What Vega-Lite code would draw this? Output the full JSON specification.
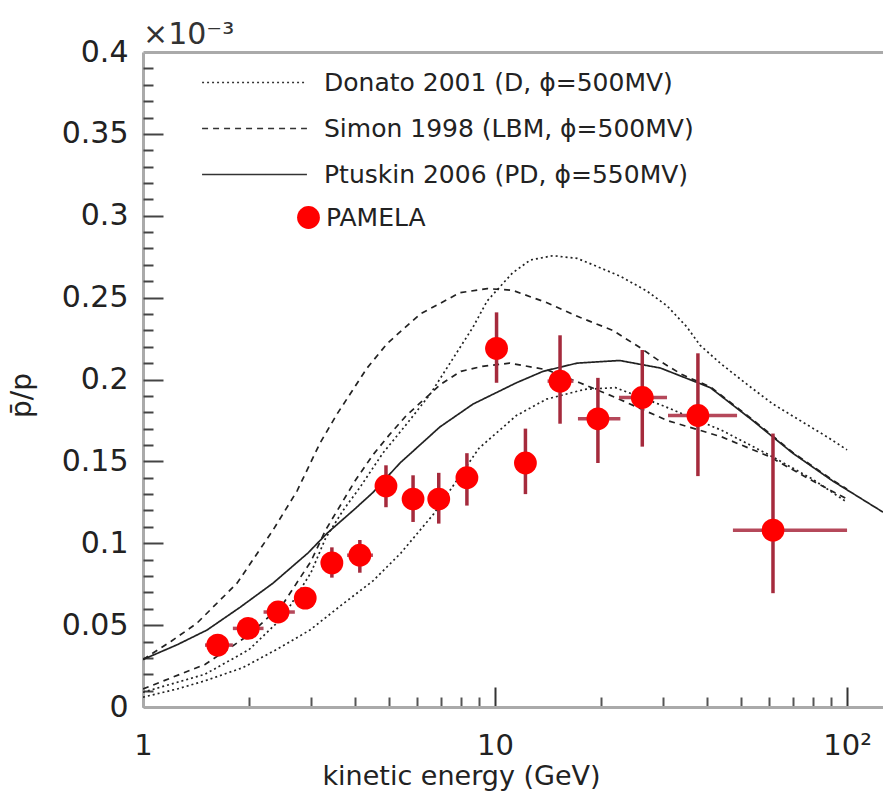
{
  "$schema": "https://vega.github.io/schema/vega-lite/v6.json",
  "width": 740,
  "height": 655,
  "autosize": {"type": "none"},
  "padding": {"left": 143, "top": 52, "right": 0, "bottom": 85},
  "background": "#ffffff",
  "config": {
    "view": {"stroke": null},
    "font": "DejaVu Sans",
    "axis": {"labelFlush": false, "labelOverlap": false, "labelBound": false}
  },
  "title": {"text": "×10⁻³", "anchor": "start", "frame": "group", "fontSize": 30, "fontWeight": "normal", "color": "#333333", "offset": 3, "dy": 16},
  "datasets": {
    "curves": [
      {"m": "Donato 2001 (D, ϕ=500MV)", "c": "Dup", "E": 1, "v": 0.009},
      {"m": "Donato 2001 (D, ϕ=500MV)", "c": "Dup", "E": 1.5, "v": 0.02},
      {"m": "Donato 2001 (D, ϕ=500MV)", "c": "Dup", "E": 2, "v": 0.035},
      {"m": "Donato 2001 (D, ϕ=500MV)", "c": "Dup", "E": 2.5, "v": 0.055},
      {"m": "Donato 2001 (D, ϕ=500MV)", "c": "Dup", "E": 3, "v": 0.082},
      {"m": "Donato 2001 (D, ϕ=500MV)", "c": "Dup", "E": 3.3, "v": 0.103},
      {"m": "Donato 2001 (D, ϕ=500MV)", "c": "Dup", "E": 3.7, "v": 0.12},
      {"m": "Donato 2001 (D, ϕ=500MV)", "c": "Dup", "E": 4.13, "v": 0.134},
      {"m": "Donato 2001 (D, ϕ=500MV)", "c": "Dup", "E": 4.8, "v": 0.155},
      {"m": "Donato 2001 (D, ϕ=500MV)", "c": "Dup", "E": 5.62, "v": 0.173},
      {"m": "Donato 2001 (D, ϕ=500MV)", "c": "Dup", "E": 6.54, "v": 0.191},
      {"m": "Donato 2001 (D, ϕ=500MV)", "c": "Dup", "E": 7.45, "v": 0.21},
      {"m": "Donato 2001 (D, ϕ=500MV)", "c": "Dup", "E": 8.66, "v": 0.232},
      {"m": "Donato 2001 (D, ϕ=500MV)", "c": "Dup", "E": 9.5, "v": 0.248},
      {"m": "Donato 2001 (D, ϕ=500MV)", "c": "Dup", "E": 11.2, "v": 0.265},
      {"m": "Donato 2001 (D, ϕ=500MV)", "c": "Dup", "E": 12.6, "v": 0.273},
      {"m": "Donato 2001 (D, ϕ=500MV)", "c": "Dup", "E": 14.6, "v": 0.2756},
      {"m": "Donato 2001 (D, ϕ=500MV)", "c": "Dup", "E": 17.1, "v": 0.274},
      {"m": "Donato 2001 (D, ϕ=500MV)", "c": "Dup", "E": 19.5, "v": 0.269},
      {"m": "Donato 2001 (D, ϕ=500MV)", "c": "Dup", "E": 22.7, "v": 0.263},
      {"m": "Donato 2001 (D, ϕ=500MV)", "c": "Dup", "E": 27, "v": 0.254},
      {"m": "Donato 2001 (D, ϕ=500MV)", "c": "Dup", "E": 30.8, "v": 0.245},
      {"m": "Donato 2001 (D, ϕ=500MV)", "c": "Dup", "E": 35.1, "v": 0.232},
      {"m": "Donato 2001 (D, ϕ=500MV)", "c": "Dup", "E": 38.2, "v": 0.221},
      {"m": "Donato 2001 (D, ϕ=500MV)", "c": "Dup", "E": 43.6, "v": 0.21},
      {"m": "Donato 2001 (D, ϕ=500MV)", "c": "Dup", "E": 52, "v": 0.197},
      {"m": "Donato 2001 (D, ϕ=500MV)", "c": "Dup", "E": 61.6, "v": 0.185},
      {"m": "Donato 2001 (D, ϕ=500MV)", "c": "Dup", "E": 73.5, "v": 0.175},
      {"m": "Donato 2001 (D, ϕ=500MV)", "c": "Dup", "E": 87.7, "v": 0.165},
      {"m": "Donato 2001 (D, ϕ=500MV)", "c": "Dup", "E": 100, "v": 0.157},
      {"m": "Donato 2001 (D, ϕ=500MV)", "c": "Dlo", "E": 1, "v": 0.006},
      {"m": "Donato 2001 (D, ϕ=500MV)", "c": "Dlo", "E": 1.25, "v": 0.011},
      {"m": "Donato 2001 (D, ϕ=500MV)", "c": "Dlo", "E": 1.5, "v": 0.016},
      {"m": "Donato 2001 (D, ϕ=500MV)", "c": "Dlo", "E": 1.92, "v": 0.024},
      {"m": "Donato 2001 (D, ϕ=500MV)", "c": "Dlo", "E": 2.39, "v": 0.035},
      {"m": "Donato 2001 (D, ϕ=500MV)", "c": "Dlo", "E": 2.98, "v": 0.047},
      {"m": "Donato 2001 (D, ϕ=500MV)", "c": "Dlo", "E": 3.7, "v": 0.063},
      {"m": "Donato 2001 (D, ϕ=500MV)", "c": "Dlo", "E": 4.5, "v": 0.077},
      {"m": "Donato 2001 (D, ϕ=500MV)", "c": "Dlo", "E": 5.4, "v": 0.094},
      {"m": "Donato 2001 (D, ϕ=500MV)", "c": "Dlo", "E": 6.7, "v": 0.118},
      {"m": "Donato 2001 (D, ϕ=500MV)", "c": "Dlo", "E": 8, "v": 0.142},
      {"m": "Donato 2001 (D, ϕ=500MV)", "c": "Dlo", "E": 9, "v": 0.158},
      {"m": "Donato 2001 (D, ϕ=500MV)", "c": "Dlo", "E": 11.5, "v": 0.178},
      {"m": "Donato 2001 (D, ϕ=500MV)", "c": "Dlo", "E": 14, "v": 0.188},
      {"m": "Donato 2001 (D, ϕ=500MV)", "c": "Dlo", "E": 18, "v": 0.194},
      {"m": "Donato 2001 (D, ϕ=500MV)", "c": "Dlo", "E": 22, "v": 0.195},
      {"m": "Donato 2001 (D, ϕ=500MV)", "c": "Dlo", "E": 30, "v": 0.184},
      {"m": "Donato 2001 (D, ϕ=500MV)", "c": "Dlo", "E": 44, "v": 0.169},
      {"m": "Donato 2001 (D, ϕ=500MV)", "c": "Dlo", "E": 60, "v": 0.154},
      {"m": "Donato 2001 (D, ϕ=500MV)", "c": "Dlo", "E": 80, "v": 0.139},
      {"m": "Donato 2001 (D, ϕ=500MV)", "c": "Dlo", "E": 100, "v": 0.125},
      {"m": "Simon 1998 (LBM, ϕ=500MV)", "c": "Sup", "E": 1, "v": 0.029},
      {"m": "Simon 1998 (LBM, ϕ=500MV)", "c": "Sup", "E": 1.2, "v": 0.04},
      {"m": "Simon 1998 (LBM, ϕ=500MV)", "c": "Sup", "E": 1.42, "v": 0.051},
      {"m": "Simon 1998 (LBM, ϕ=500MV)", "c": "Sup", "E": 1.85, "v": 0.0756},
      {"m": "Simon 1998 (LBM, ϕ=500MV)", "c": "Sup", "E": 2.34, "v": 0.108},
      {"m": "Simon 1998 (LBM, ϕ=500MV)", "c": "Sup", "E": 2.74, "v": 0.132},
      {"m": "Simon 1998 (LBM, ϕ=500MV)", "c": "Sup", "E": 3.18, "v": 0.161},
      {"m": "Simon 1998 (LBM, ϕ=500MV)", "c": "Sup", "E": 3.56, "v": 0.179},
      {"m": "Simon 1998 (LBM, ϕ=500MV)", "c": "Sup", "E": 4.33, "v": 0.207},
      {"m": "Simon 1998 (LBM, ϕ=500MV)", "c": "Sup", "E": 4.94, "v": 0.222},
      {"m": "Simon 1998 (LBM, ϕ=500MV)", "c": "Sup", "E": 6.13, "v": 0.24},
      {"m": "Simon 1998 (LBM, ϕ=500MV)", "c": "Sup", "E": 7.95, "v": 0.253},
      {"m": "Simon 1998 (LBM, ϕ=500MV)", "c": "Sup", "E": 9.5, "v": 0.2555},
      {"m": "Simon 1998 (LBM, ϕ=500MV)", "c": "Sup", "E": 11.2, "v": 0.2545},
      {"m": "Simon 1998 (LBM, ϕ=500MV)", "c": "Sup", "E": 14, "v": 0.247},
      {"m": "Simon 1998 (LBM, ϕ=500MV)", "c": "Sup", "E": 17.4, "v": 0.238},
      {"m": "Simon 1998 (LBM, ϕ=500MV)", "c": "Sup", "E": 21.6, "v": 0.23},
      {"m": "Simon 1998 (LBM, ϕ=500MV)", "c": "Sup", "E": 25.8, "v": 0.2195},
      {"m": "Simon 1998 (LBM, ϕ=500MV)", "c": "Sup", "E": 29, "v": 0.212},
      {"m": "Simon 1998 (LBM, ϕ=500MV)", "c": "Sup", "E": 34, "v": 0.203},
      {"m": "Simon 1998 (LBM, ϕ=500MV)", "c": "Sup", "E": 40.9, "v": 0.1955},
      {"m": "Simon 1998 (LBM, ϕ=500MV)", "c": "Sup", "E": 53.9, "v": 0.1755},
      {"m": "Simon 1998 (LBM, ϕ=500MV)", "c": "Sup", "E": 70.1, "v": 0.1555},
      {"m": "Simon 1998 (LBM, ϕ=500MV)", "c": "Sup", "E": 91.1, "v": 0.1385},
      {"m": "Simon 1998 (LBM, ϕ=500MV)", "c": "Sup", "E": 100, "v": 0.133},
      {"m": "Simon 1998 (LBM, ϕ=500MV)", "c": "Slo", "E": 1, "v": 0.011},
      {"m": "Simon 1998 (LBM, ϕ=500MV)", "c": "Slo", "E": 1.5, "v": 0.026},
      {"m": "Simon 1998 (LBM, ϕ=500MV)", "c": "Slo", "E": 2, "v": 0.044},
      {"m": "Simon 1998 (LBM, ϕ=500MV)", "c": "Slo", "E": 2.5, "v": 0.063},
      {"m": "Simon 1998 (LBM, ϕ=500MV)", "c": "Slo", "E": 3, "v": 0.089},
      {"m": "Simon 1998 (LBM, ϕ=500MV)", "c": "Slo", "E": 3.3, "v": 0.108},
      {"m": "Simon 1998 (LBM, ϕ=500MV)", "c": "Slo", "E": 4, "v": 0.138},
      {"m": "Simon 1998 (LBM, ϕ=500MV)", "c": "Slo", "E": 4.5, "v": 0.154},
      {"m": "Simon 1998 (LBM, ϕ=500MV)", "c": "Slo", "E": 5, "v": 0.166},
      {"m": "Simon 1998 (LBM, ϕ=500MV)", "c": "Slo", "E": 5.6, "v": 0.178},
      {"m": "Simon 1998 (LBM, ϕ=500MV)", "c": "Slo", "E": 7, "v": 0.197},
      {"m": "Simon 1998 (LBM, ϕ=500MV)", "c": "Slo", "E": 8, "v": 0.205},
      {"m": "Simon 1998 (LBM, ϕ=500MV)", "c": "Slo", "E": 9.2, "v": 0.208},
      {"m": "Simon 1998 (LBM, ϕ=500MV)", "c": "Slo", "E": 11, "v": 0.21},
      {"m": "Simon 1998 (LBM, ϕ=500MV)", "c": "Slo", "E": 14, "v": 0.206},
      {"m": "Simon 1998 (LBM, ϕ=500MV)", "c": "Slo", "E": 17.4, "v": 0.198},
      {"m": "Simon 1998 (LBM, ϕ=500MV)", "c": "Slo", "E": 22, "v": 0.189},
      {"m": "Simon 1998 (LBM, ϕ=500MV)", "c": "Slo", "E": 30.8, "v": 0.175},
      {"m": "Simon 1998 (LBM, ϕ=500MV)", "c": "Slo", "E": 44, "v": 0.165},
      {"m": "Simon 1998 (LBM, ϕ=500MV)", "c": "Slo", "E": 60, "v": 0.153},
      {"m": "Simon 1998 (LBM, ϕ=500MV)", "c": "Slo", "E": 80, "v": 0.138},
      {"m": "Simon 1998 (LBM, ϕ=500MV)", "c": "Slo", "E": 100, "v": 0.127},
      {"m": "Ptuskin 2006 (PD, ϕ=550MV)", "c": "P", "E": 1, "v": 0.029},
      {"m": "Ptuskin 2006 (PD, ϕ=550MV)", "c": "P", "E": 1.25, "v": 0.038},
      {"m": "Ptuskin 2006 (PD, ϕ=550MV)", "c": "P", "E": 1.52, "v": 0.047},
      {"m": "Ptuskin 2006 (PD, ϕ=550MV)", "c": "P", "E": 1.89, "v": 0.061},
      {"m": "Ptuskin 2006 (PD, ϕ=550MV)", "c": "P", "E": 2.34, "v": 0.0756},
      {"m": "Ptuskin 2006 (PD, ϕ=550MV)", "c": "P", "E": 2.94, "v": 0.094},
      {"m": "Ptuskin 2006 (PD, ϕ=550MV)", "c": "P", "E": 3.33, "v": 0.106},
      {"m": "Ptuskin 2006 (PD, ϕ=550MV)", "c": "P", "E": 4, "v": 0.121},
      {"m": "Ptuskin 2006 (PD, ϕ=550MV)", "c": "P", "E": 4.5, "v": 0.131},
      {"m": "Ptuskin 2006 (PD, ϕ=550MV)", "c": "P", "E": 5.37, "v": 0.149},
      {"m": "Ptuskin 2006 (PD, ϕ=550MV)", "c": "P", "E": 6.97, "v": 0.171},
      {"m": "Ptuskin 2006 (PD, ϕ=550MV)", "c": "P", "E": 8.66, "v": 0.185},
      {"m": "Ptuskin 2006 (PD, ϕ=550MV)", "c": "P", "E": 11.5, "v": 0.198},
      {"m": "Ptuskin 2006 (PD, ϕ=550MV)", "c": "P", "E": 13.7, "v": 0.205},
      {"m": "Ptuskin 2006 (PD, ϕ=550MV)", "c": "P", "E": 17.1, "v": 0.21},
      {"m": "Ptuskin 2006 (PD, ϕ=550MV)", "c": "P", "E": 22.6, "v": 0.2116},
      {"m": "Ptuskin 2006 (PD, ϕ=550MV)", "c": "P", "E": 29.5, "v": 0.207},
      {"m": "Ptuskin 2006 (PD, ϕ=550MV)", "c": "P", "E": 40.9, "v": 0.195},
      {"m": "Ptuskin 2006 (PD, ϕ=550MV)", "c": "P", "E": 53.9, "v": 0.175},
      {"m": "Ptuskin 2006 (PD, ϕ=550MV)", "c": "P", "E": 70.1, "v": 0.155},
      {"m": "Ptuskin 2006 (PD, ϕ=550MV)", "c": "P", "E": 91.1, "v": 0.138},
      {"m": "Ptuskin 2006 (PD, ϕ=550MV)", "c": "P", "E": 126.5, "v": 0.119}
    ],
    "pamela": [
      {"series": "PAMELA", "E": 1.63, "v": 0.0378, "lo": 0.034, "hi": 0.042, "Elo": 1.5, "Ehi": 1.8},
      {"series": "PAMELA", "E": 1.99, "v": 0.048, "lo": 0.044, "hi": 0.052, "Elo": 1.8, "Ehi": 2.2},
      {"series": "PAMELA", "E": 2.42, "v": 0.058, "lo": 0.054, "hi": 0.062, "Elo": 2.2, "Ehi": 2.7},
      {"series": "PAMELA", "E": 2.89, "v": 0.0665, "lo": 0.062, "hi": 0.071, "Elo": 2.7, "Ehi": 3.1},
      {"series": "PAMELA", "E": 3.44, "v": 0.088, "lo": 0.079, "hi": 0.0975, "Elo": 3.2, "Ehi": 3.7},
      {"series": "PAMELA", "E": 4.13, "v": 0.0927, "lo": 0.082, "hi": 0.102, "Elo": 3.8, "Ehi": 4.5},
      {"series": "PAMELA", "E": 4.9, "v": 0.135, "lo": 0.122, "hi": 0.1476, "Elo": 4.6, "Ehi": 5.2},
      {"series": "PAMELA", "E": 5.85, "v": 0.127, "lo": 0.113, "hi": 0.1415, "Elo": 5.5, "Ehi": 6.2},
      {"series": "PAMELA", "E": 6.92, "v": 0.127, "lo": 0.112, "hi": 0.143, "Elo": 6.5, "Ehi": 7.3},
      {"series": "PAMELA", "E": 8.32, "v": 0.14, "lo": 0.123, "hi": 0.155, "Elo": 7.8, "Ehi": 8.9},
      {"series": "PAMELA", "E": 10.1, "v": 0.219, "lo": 0.198, "hi": 0.241, "Elo": 9.4, "Ehi": 10.8},
      {"series": "PAMELA", "E": 12.2, "v": 0.149, "lo": 0.13, "hi": 0.17, "Elo": 11.4, "Ehi": 13.0},
      {"series": "PAMELA", "E": 15.3, "v": 0.199, "lo": 0.173, "hi": 0.227, "Elo": 14.1, "Ehi": 16.7},
      {"series": "PAMELA", "E": 19.6, "v": 0.176, "lo": 0.149, "hi": 0.201, "Elo": 17.2, "Ehi": 22.7},
      {"series": "PAMELA", "E": 26.2, "v": 0.189, "lo": 0.159, "hi": 0.218, "Elo": 22.5, "Ehi": 30.8},
      {"series": "PAMELA", "E": 37.7, "v": 0.178, "lo": 0.141, "hi": 0.216, "Elo": 31.0, "Ehi": 48.7},
      {"series": "PAMELA", "E": 61.6, "v": 0.108, "lo": 0.0695, "hi": 0.167, "Elo": 47.4, "Ehi": 100}
    ]
  },
  "layer": [
    {
      "data": {"name": "curves"},
      "mark": {"type": "line", "clip": true, "color": "#222222"},
      "encoding": {
        "x": {
          "field": "E", "type": "quantitative",
          "scale": {"type": "log", "domain": [1, 126.5], "nice": false},
          "axis": {
            "orient": "bottom", "values": [1, 10, 100],
            "labelExpr": "datum.value == 100 ? '10²' : (datum.value == 10 ? '10' : '1')",
            "ticks": false,
            "grid": true, "gridDash": [0, 635, 20, 3000], "gridColor": "#333333", "gridWidth": 2, "gridOpacity": 1,
            "domainColor": "#aaaaaa", "domainWidth": 3,
            "labelFontSize": 29, "labelColor": "#222222", "labelPadding": 24, "labelBaseline": "top",
            "title": "kinetic energy (GeV)", "titleFontSize": 27, "titleFontWeight": "normal", "titleColor": "#222222",
            "titleX": 318, "titleY": 77, "titleBaseline": "alphabetic", "titleAlign": "center"
          }
        },
        "y": {
          "field": "v", "type": "quantitative",
          "scale": {"domain": [0, 0.4], "nice": false, "zero": false},
          "axis": {
            "orient": "left", "values": [0, 0.05, 0.1, 0.15, 0.2, 0.25, 0.3, 0.35, 0.4],
            "format": ".2~f",
            "ticks": false,
            "grid": false,
            "domainColor": "#aaaaaa", "domainWidth": 3,
            "labelFontSize": 30, "labelColor": "#222222", "labelPadding": 15,
            "title": "p̄/p", "titleFontSize": 28, "titleFontWeight": "normal", "titleColor": "#222222",
            "titleX": -113, "titleY": 343, "titleAngle": -90, "titleBaseline": "alphabetic", "titleAlign": "center"
          }
        },
        "strokeDash": {
          "field": "m", "type": "nominal",
          "scale": {
            "domain": ["Donato 2001 (D, ϕ=500MV)", "Simon 1998 (LBM, ϕ=500MV)", "Ptuskin 2006 (PD, ϕ=550MV)"],
            "range": [[2, 3], [6, 5], [1, 0]]
          },
          "legend": {
            "title": null, "orient": "none", "legendX": 99, "legendY": 18,
            "symbolType": "M-10,0H10", "symbolSize": 110, "symbolStrokeColor": "#333333", "symbolStrokeWidth": 1.6,
            "labelFontSize": 25, "labelColor": "#222222", "labelOffset": 57, "labelLimit": 600,
            "rowPadding": 20, "padding": 0
          }
        },
        "strokeWidth": {
          "field": "m", "type": "nominal",
          "scale": {
            "domain": ["Donato 2001 (D, ϕ=500MV)", "Simon 1998 (LBM, ϕ=500MV)", "Ptuskin 2006 (PD, ϕ=550MV)"],
            "range": [1.7, 1.7, 2.2]
          },
          "legend": null
        },
        "detail": {"field": "c", "type": "nominal"}
      }
    },
    {
      "data": {"name": "pamela"},
      "mark": {"type": "rule", "color": "#a52a3c", "strokeWidth": 3.5},
      "encoding": {
        "x": {
          "field": "E", "type": "quantitative",
          "scale": {"type": "log", "domain": [1, 126.5], "nice": false},
          "axis": {
            "orient": "top", "values": [2, 3, 4, 5, 6, 7, 8, 9, 20, 30, 40, 50, 60, 70, 80, 90],
            "domain": true, "domainColor": "#aaaaaa", "domainWidth": 3, "ticks": false, "labels": false, "title": null,
            "grid": true, "gridDash": [10, 3000], "gridColor": "#555555", "gridWidth": 2, "gridOpacity": 1
          }
        },
        "y": {"field": "lo", "type": "quantitative", "scale": {"domain": [0, 0.4], "nice": false, "zero": false}, "axis": null},
        "y2": {"field": "hi"}
      }
    },
    {
      "data": {"name": "pamela"},
      "mark": {"type": "rule", "color": "#b5485a", "strokeWidth": 3.5},
      "encoding": {
        "x": {"field": "Elo", "type": "quantitative", "scale": {"type": "log", "domain": [1, 126.5], "nice": false}, "axis": null},
        "x2": {"field": "Ehi"},
        "y": {
          "field": "v", "type": "quantitative", "scale": {"domain": [0, 0.4], "nice": false, "zero": false},
          "axis": {
            "orient": "right", "offset": -740,
            "values": [0.01, 0.02, 0.03, 0.04, 0.05, 0.06, 0.07, 0.08, 0.09, 0.1, 0.11, 0.12, 0.13, 0.14, 0.15, 0.16, 0.17, 0.18, 0.19, 0.2, 0.21, 0.22, 0.23, 0.24, 0.25, 0.26, 0.27, 0.28, 0.29, 0.3, 0.31, 0.32, 0.33, 0.34, 0.35, 0.36, 0.37, 0.38, 0.39],
            "domain": false, "labels": false, "title": null, "grid": false,
            "ticks": true, "tickWidth": 2, "tickColor": "#444444",
            "tickSize": {"condition": {"test": "abs(datum.value * 20 - round(datum.value * 20)) < 0.001", "value": 20}, "value": 10}
          }
        }
      }
    },
    {
      "data": {"name": "pamela"},
      "mark": {"type": "point", "filled": true, "size": 520, "opacity": 1, "strokeWidth": 0},
      "encoding": {
        "x": {"field": "E", "type": "quantitative", "scale": {"type": "log", "domain": [1, 126.5], "nice": false}, "axis": null},
        "y": {"field": "v", "type": "quantitative", "scale": {"domain": [0, 0.4], "nice": false, "zero": false}, "axis": null},
        "fill": {
          "field": "series", "type": "nominal",
          "scale": {"domain": ["PAMELA"], "range": ["#ff0000"]},
          "legend": {
            "title": null, "orient": "none", "legendX": 153, "legendY": 153,
            "symbolType": "circle", "symbolSize": 520, "symbolStrokeWidth": 0, "symbolOpacity": 1,
            "labelFontSize": 25, "labelColor": "#222222", "labelOffset": 5, "labelLimit": 300, "padding": 0
          }
        }
      }
    }
  ],
  "resolve": {"axis": {"x": "independent", "y": "independent"}}
}
